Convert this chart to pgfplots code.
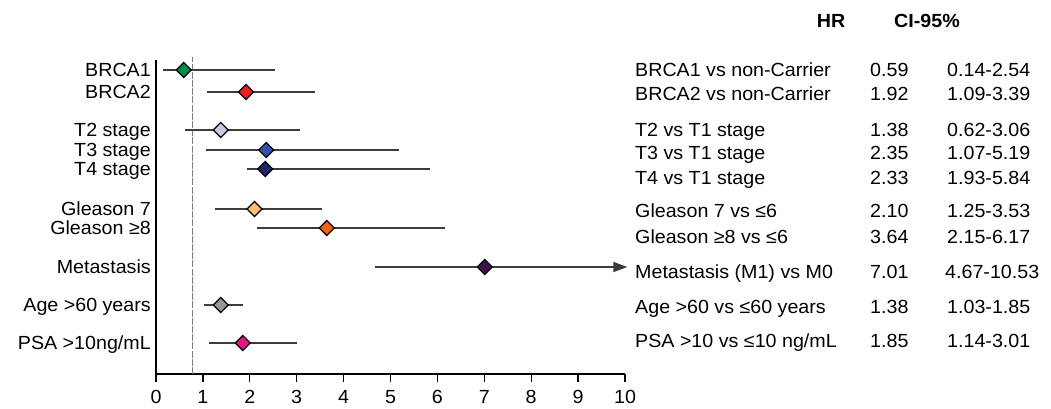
\documentclass[border=0pt]{standalone}
\usepackage{fontspec}
\setmainfont[FakeStretch=1.035]{Liberation Sans}
\usepackage{pgfplots}
\pgfplotsset{compat=1.18}
\usetikzlibrary{arrows.meta}
\definecolor{cA}{RGB}{0,140,70}
\definecolor{cB}{RGB}{240,30,30}
\definecolor{cC}{RGB}{200,200,230}
\definecolor{cD}{RGB}{50,80,170}
\definecolor{cE}{RGB}{30,40,100}
\definecolor{cF}{RGB}{250,190,120}
\definecolor{cG}{RGB}{240,100,20}
\definecolor{cH}{RGB}{60,20,80}
\definecolor{cI}{RGB}{150,150,150}
\definecolor{cJ}{RGB}{230,20,130}
\definecolor{linec}{RGB}{60,60,60}
\definecolor{refc}{RGB}{125,125,125}
\pgfplotsset{
  ci/.style={linec, line width=1.3pt, forget plot},
  hr/.style={only marks, mark=square*, mark size=5.3pt,
    mark options={rotate=45, draw=black, line width=1.2pt, fill=#1}, forget plot}
}
\begin{document}
\begin{tikzpicture}[x=1pt,y=1pt,font=\fontsize{19}{22}\selectfont]
\useasboundingbox (0,0) rectangle (1051,408);
\begin{axis}[
  at={(156pt,34pt)}, anchor=south west,
  scale only axis, width=469pt, height=314pt,
  xmin=0, xmax=10, ymin=-374, ymax=-60,
  axis lines=left, axis line style={-, line width=1.3pt, black},
  xtick={0,1,...,10}, tick align=outside, major tick length=8pt,
  xtick style={line width=1.3pt, black},
  xticklabel style={yshift=-5pt},
  ytick={-70,-92,-130,-150,-169,-209,-228,-267,-305,-343},
  yticklabels={BRCA1,BRCA2,T2 stage,T3 stage,T4 stage,Gleason 7,Gleason ≥8,Metastasis,Age >60 years,PSA >10ng/mL},
  ytick style={draw=none},
  yticklabel style={anchor=base east, yshift=-6.8pt, xshift=6.3pt},
  tick label style={font=\fontsize{19}{22}\selectfont},
  /pgf/number format/assume math mode=true,
  clip=false,
]
% reference line
\addplot[refc, line width=1.3pt, dash pattern=on 7pt off 1.2pt, forget plot] coordinates {(0.78,-374) (0.78,-57)};
% BRCA1
\addplot[ci] coordinates {(0.14,-70) (2.54,-70)};
\addplot[hr=cA] coordinates {(0.59,-70)};
% BRCA2
\addplot[ci] coordinates {(1.09,-92) (3.39,-92)};
\addplot[hr=cB] coordinates {(1.92,-92)};
% T2
\addplot[ci] coordinates {(0.62,-130) (3.06,-130)};
\addplot[hr=cC] coordinates {(1.38,-130)};
% T3
\addplot[ci] coordinates {(1.07,-150) (5.19,-150)};
\addplot[hr=cD] coordinates {(2.35,-150)};
% T4
\addplot[ci] coordinates {(1.93,-169) (5.84,-169)};
\addplot[hr=cE] coordinates {(2.33,-169)};
% Gleason 7
\addplot[ci] coordinates {(1.25,-209) (3.53,-209)};
\addplot[hr=cF] coordinates {(2.10,-209)};
% Gleason 8
\addplot[ci] coordinates {(2.15,-228) (6.17,-228)};
\addplot[hr=cG] coordinates {(3.64,-228)};
% Metastasis
\addplot[ci, -{Triangle[length=14pt,width=10pt]}] coordinates {(4.67,-267) (10.05,-267)};
\addplot[hr=cH] coordinates {(7.01,-267)};
% Age
\addplot[ci] coordinates {(1.03,-305) (1.85,-305)};
\addplot[hr=cI] coordinates {(1.38,-305)};
% PSA
\addplot[ci] coordinates {(1.14,-343) (3.01,-343)};
\addplot[hr=cJ] coordinates {(1.85,-343)};
\end{axis}
% header
\node[anchor=base, font=\fontsize{19}{22}\selectfont\bfseries] at (831,380.2) {HR};
\node[anchor=base, font=\fontsize{19}{22}\selectfont\bfseries] at (927,380.2) {CI-95\%};
% right table
\begin{scope}[every node/.style={anchor=base west, inner sep=0pt}]
\node at (635,331.2) {BRCA1 vs non-Carrier}; \node at (870,331.2) {0.59}; \node at (947,331.2) {0.14-2.54};
\node at (635,307.2) {BRCA2 vs non-Carrier}; \node at (870,307.2) {1.92}; \node at (947,307.2) {1.09-3.39};
\node at (635,271.2) {T2 vs T1 stage}; \node at (870,271.2) {1.38}; \node at (947,271.2) {0.62-3.06};
\node at (635,248.2) {T3 vs T1 stage}; \node at (870,248.2) {2.35}; \node at (947,248.2) {1.07-5.19};
\node at (635,223.2) {T4 vs T1 stage}; \node at (870,223.2) {2.33}; \node at (947,223.2) {1.93-5.84};
\node at (635,190.2) {Gleason 7 vs ≤6}; \node at (870,190.2) {2.10}; \node at (947,190.2) {1.25-3.53};
\node at (635,164.2) {Gleason ≥8 vs ≤6}; \node at (870,164.2) {3.64}; \node at (947,164.2) {2.15-6.17};
\node at (635,129.2) {Metastasis (M1) vs M0}; \node at (870,129.2) {7.01}; \node at (945,129.2) {4.67-10.53};
\node at (635,94.2) {Age >60 vs ≤60 years}; \node at (870,94.2) {1.38}; \node at (947,94.2) {1.03-1.85};
\node at (635,60.2) {PSA >10 vs ≤10 ng/mL}; \node at (870,60.2) {1.85}; \node at (947,60.2) {1.14-3.01};
\end{scope}
\end{tikzpicture}
\end{document}
